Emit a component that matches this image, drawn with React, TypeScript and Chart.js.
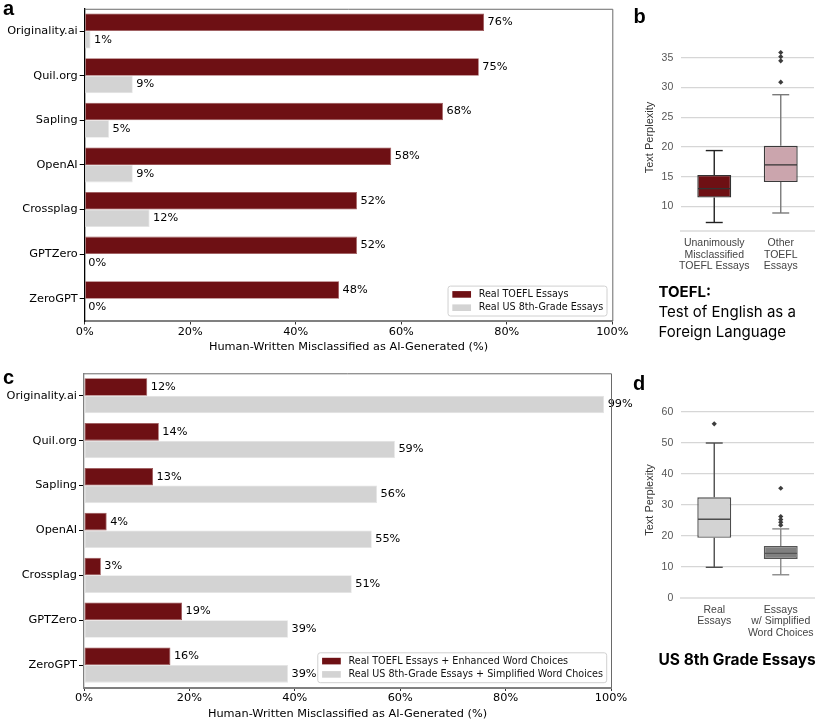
import React, { useEffect, useRef } from "react";
import { Chart, registerables } from "chart.js";
Chart.register(...registerables);

// ---------- data ----------
const detectors = ["Originality.ai", "Quil.org", "Sapling", "OpenAI", "Crossplag", "GPTZero", "ZeroGPT"];
const toeflReal = [75.7, 74.7, 67.9, 58.1, 51.6, 51.6, 48.2];
const usReal = [1.1, 9.1, 4.6, 9.1, 12.3, 0, 0];
const toeflEnhanced = [12.0, 14.2, 13.1, 4.3, 3.2, 18.6, 16.4];
const usSimplified = [98.7, 59.0, 55.6, 54.6, 50.8, 38.7, 38.7];
const pctTicks = [0, 20, 40, 60, 80, 100];

const toeflGroups = [["Unanimously", "Misclassified", "TOEFL Essays"], ["Other", "TOEFL", "Essays"]];
const toeflQ1 = [11.5, 14.1];
const toeflMedian = [13.0, 17.0];
const toeflQ3 = [15.3, 20.2];
const toeflLow = [7.3, 8.9];
const toeflHigh = [19.4, 28.8];
const toeflOutliers = [[], [30.9, 34.5, 35.2, 35.9]];
const toeflTicks = [10, 15, 20, 25, 30, 35];

const usGroups = [["Real", "Essays"], ["Essays", "w/ Simplified", "Word Choices"]];
const usQ1 = [19.3, 12.5];
const usMedian = [25.3, 14.3];
const usQ3 = [32.4, 16.7];
const usLow = [9.8, 7.4];
const usHigh = [49.9, 22.2];
const usOutliers = [[56.1], [23.4, 24.3, 25.2, 26.2, 35.3]];
const usTicks = [0, 10, 20, 30, 40, 50, 60];

const DARK = "#6e1014";
const LIGHT = "#d3d3d3";
const MPL = "DejaVu Sans";
const SNS = "Liberation Sans";
const MPL_SIZE = 11.3;

// ---------- plugins ----------
const barValueLabels = {
  id: "barValueLabels",
  afterDatasetsDraw(chart: any) {
    const ctx = chart.ctx;
    ctx.save();
    ctx.font = `${MPL_SIZE}px "${MPL}"`;
    ctx.fillStyle = "#000";
    ctx.textAlign = "left";
    ctx.textBaseline = "middle";
    chart.data.datasets.forEach((ds: any, di: number) => {
      chart.getDatasetMeta(di).data.forEach((bar: any, i: number) => {
        ctx.fillText(Math.round(ds.data[i]) + "%", bar.x + 3.5, bar.y);
      });
    });
    ctx.restore();
  },
};

const frame = {
  id: "frame",
  afterDraw(chart: any) {
    const { ctx, chartArea } = chart;
    const { left, right, top, bottom } = chartArea;
    ctx.save();
    ctx.strokeStyle = "#6a6a6a";
    ctx.lineWidth = 1;
    ctx.beginPath();
    ctx.moveTo(left, top + 0.5);
    ctx.lineTo(right + 0.5, top + 0.5);
    ctx.lineTo(right + 0.5, bottom);
    ctx.stroke();
    ctx.restore();
  },
};

function makeInsideLegend(marginRight: number, marginBottom: number) {
  return {
    id: "insideLegend",
    afterDraw(chart: any) {
      const { ctx, chartArea } = chart;
      const ds = chart.data.datasets;
      ctx.save();
      ctx.font = `9.6px "${MPL}"`;
      const textW = Math.max(...ds.map((d: any) => ctx.measureText(d.label).width));
      const padL = 4.3, swW = 18.7, gap = 7.7, padR = 3.7, lineH = 13.3, padV = 8.3;
      const w = padL + swW + gap + textW + padR;
      const h = padV * 2 + lineH * (ds.length - 1);
      const x = chartArea.right - marginRight - w;
      const y = chartArea.bottom - marginBottom - h;
      ctx.beginPath();
      if (ctx.roundRect) ctx.roundRect(x, y, w, h, 2.5);
      else ctx.rect(x, y, w, h);
      ctx.fillStyle = "rgba(255,255,255,0.85)";
      ctx.fill();
      ctx.strokeStyle = "#d0d0d0";
      ctx.lineWidth = 1;
      ctx.stroke();
      ds.forEach((d: any, i: number) => {
        const cy = y + padV + i * lineH;
        ctx.fillStyle = d.backgroundColor;
        ctx.fillRect(x + padL, cy - 3.3, swW, 6.6);
        ctx.fillStyle = "#111";
        ctx.textAlign = "left";
        ctx.textBaseline = "middle";
        ctx.fillText(d.label, x + padL + swW + gap, cy);
      });
      ctx.restore();
    },
  };
}

function makeWhiskers(q1: number[], med: number[], q3: number[], lo: number[], hi: number[], whiskerColors: string[], medianColors: string[]) {
  return {
    id: "whiskers",
    afterDatasetsDraw(chart: any) {
      const ctx = chart.ctx;
      const ys = chart.scales.y;
      const meta = chart.getDatasetMeta(0);
      meta.data.forEach((bar: any, i: number) => {
        const x = bar.x;
        const w = bar.width;
        const line = (x1: number, y1: number, x2: number, y2: number) => {
          ctx.beginPath();
          ctx.moveTo(x1, y1);
          ctx.lineTo(x2, y2);
          ctx.stroke();
        };
        ctx.save();
        ctx.lineWidth = 1.4;
        ctx.strokeStyle = whiskerColors[i];
        const pTop = ys.getPixelForValue(q3[i]);
        const pBot = ys.getPixelForValue(q1[i]);
        const pHi = ys.getPixelForValue(hi[i]);
        const pLo = ys.getPixelForValue(lo[i]);
        line(x, pTop, x, pHi);
        line(x - w / 4, pHi, x + w / 4, pHi);
        line(x, pBot, x, pLo);
        line(x - w / 4, pLo, x + w / 4, pLo);
        ctx.strokeStyle = medianColors[i];
        const pMed = ys.getPixelForValue(med[i]);
        line(x - w / 2 + 0.7, pMed, x + w / 2 - 0.7, pMed);
        ctx.restore();
      });
    },
  };
}

// ---------- configs ----------
function barConfig(g: any) {
  return {
    type: "bar",
    data: {
      labels: detectors,
      datasets: [
        { label: g.label1, data: g.s1, backgroundColor: DARK, borderColor: "#9a5456", borderWidth: 0.8, borderSkipped: false },
        { label: g.label2, data: g.s2, backgroundColor: LIGHT, borderColor: "#e4e4e4", borderWidth: 0.8, borderSkipped: false },
      ],
    },
    options: {
      indexAxis: "y",
      responsive: false,
      animation: false,
      events: [],
      layout: { padding: { top: g.padTop, right: g.padRight, left: 0, bottom: 0 } },
      datasets: { bar: { categoryPercentage: 0.785, barPercentage: 1 } },
      plugins: { legend: { display: false }, tooltip: { enabled: false } },
      scales: {
        x: {
          type: "linear",
          min: 0,
          max: 100,
          bounds: "data",
          afterBuildTicks: (a: any) => { a.ticks = pctTicks.map((v) => ({ value: v })); },
          afterFit: (s: any) => { s.height = g.xHeight; },
          ticks: { callback: (v: any) => v + "%", color: "#000", font: { family: MPL, size: MPL_SIZE }, padding: 0.5, maxRotation: 0 },
          grid: { drawOnChartArea: false, drawTicks: true, tickLength: 3.5, tickColor: "#333", tickWidth: 1 },
          border: { color: "#808080", width: 2 },
          title: {
            display: true,
            text: "Human-Written Misclassified as AI-Generated (%)",
            color: "#000",
            font: { family: MPL, size: MPL_SIZE },
            padding: { top: 0, bottom: 0.2 },
          },
        },
        y: {
          type: "category",
          afterFit: (s: any) => { s.width = g.yWidth; },
          ticks: { color: "#000", font: { family: MPL, size: MPL_SIZE }, padding: 2, autoSkip: false },
          grid: { drawOnChartArea: false, offset: false, tickLength: 5, tickColor: "#000", tickWidth: 1 },
          border: { color: g.leftSpine, width: 1.3 },
        },
      },
    },
    plugins: [barValueLabels, frame, makeInsideLegend(g.legRight, g.legBottom)],
  };
}

function boxConfig(g: any) {
  const outlierPts: any[] = [];
  g.outliers.forEach((arr: number[], i: number) => arr.forEach((v) => outlierPts.push({ x: i, y: v })));
  return {
    type: "bar",
    data: {
      labels: g.groups,
      datasets: [
        {
          label: "box",
          data: g.q1.map((v: number, i: number) => [v, g.q3[i]]),
          backgroundColor: g.fills,
          borderColor: g.edges,
          borderWidth: 1.4,
          borderSkipped: false,
          grouped: false,
          categoryPercentage: 1,
          barPercentage: 0.51,
        },
        {
          type: "line",
          label: "outliers",
          xAxisID: "xo",
          data: outlierPts,
          showLine: false,
          pointStyle: "rectRot",
          pointRadius: 2.6,
          pointBackgroundColor: "#3d3d3d",
          pointBorderWidth: 0,
        },
      ],
    },
    options: {
      responsive: false,
      animation: false,
      events: [],
      layout: { padding: { top: g.padTop, right: g.padRight, left: 0, bottom: 0 } },
      plugins: { legend: { display: false }, tooltip: { enabled: false } },
      scales: {
        x: {
          type: "category",
          afterFit: (s: any) => { s.height = g.xHeight; },
          grid: { display: false, drawTicks: false, tickLength: 0 },
          border: { display: true, color: "#e3e3e3", width: 2 },
          ticks: { color: "#444", font: { family: SNS, size: 10.5, lineHeight: 1.08 }, padding: 6.6, maxRotation: 0, autoSkip: false },
        },
        xo: {
          type: "linear",
          position: "bottom",
          display: false,
          offset: false,
          grid: { offset: false },
          min: -0.5,
          max: g.groups.length - 0.5,
          bounds: "data",
        },
        y: {
          type: "linear",
          min: g.min,
          max: g.max,
          bounds: "data",
          afterBuildTicks: (a: any) => { a.ticks = g.ticks.map((v: number) => ({ value: v })); },
          afterFit: (s: any) => { s.width = g.yWidth; },
          ticks: { color: "#555", font: { family: SNS, size: 10.5 }, padding: 7.7 },
          grid: {
            drawTicks: false,
            color: (c: any) => (c.tick && c.tick.value === 0 ? "rgba(0,0,0,0)" : "#d6d6d6"),
            lineWidth: 1.2,
          },
          border: { display: false },
          title: {
            display: true,
            text: "Text Perplexity",
            color: "#333",
            font: { family: SNS, size: 11 },
            padding: { top: 13.4, bottom: 0 },
          },
        },
      },
    },
    plugins: [makeWhiskers(g.q1, g.med, g.q3, g.lo, g.hi, g.whiskerColors, g.medianColors)],
  };
}

function ChartCanvas({ left, top, width, height, make }: any) {
  const ref = useRef<HTMLCanvasElement | null>(null);
  useEffect(() => {
    const chart = new Chart(ref.current as HTMLCanvasElement, make() as any);
    return () => chart.destroy();
  }, []);
  return (
    <canvas
      ref={ref}
      width={width}
      height={height}
      style={{ position: "absolute", left, top, width, height }}
    />
  );
}

const letterStyle = (left: number, top: number): React.CSSProperties => ({
  position: "absolute",
  left,
  top,
  fontFamily: `"${SNS}", Arial, sans-serif`,
  fontWeight: 700,
  fontSize: 20,
  lineHeight: "20px",
  color: "#000",
});

export default function App() {
  return (
    <div style={{ position: "absolute", left: 0, top: 0, width: 830, height: 721, background: "#fff", overflow: "hidden" }}>
      <ChartCanvas
        left={0}
        top={0}
        width={640}
        height={354}
        make={() =>
          barConfig({
            s1: toeflReal,
            s2: usReal,
            label1: "Real TOEFL Essays",
            label2: "Real US 8th-Grade Essays",
            padTop: 6,
            padRight: 27.7,
            xHeight: 33,
            yWidth: 84.7,
            leftSpine: "#000",
            legRight: 5.3,
            legBottom: 5,
          })
        }
      />
      <ChartCanvas
        left={0}
        top={360}
        width={640}
        height={361}
        make={() =>
          barConfig({
            s1: toeflEnhanced,
            s2: usSimplified,
            label1: "Real TOEFL Essays + Enhanced Word Choices",
            label2: "Real US 8th-Grade Essays + Simplified Word Choices",
            padTop: 13.3,
            padRight: 29,
            xHeight: 33.5,
            yWidth: 84,
            leftSpine: "#808080",
            legRight: 4.3,
            legBottom: 4.8,
          })
        }
      />
      <ChartCanvas
        left={630}
        top={30}
        width={200}
        height={250}
        make={() =>
          boxConfig({
            groups: toeflGroups,
            q1: toeflQ1,
            med: toeflMedian,
            q3: toeflQ3,
            lo: toeflLow,
            hi: toeflHigh,
            outliers: toeflOutliers,
            ticks: toeflTicks,
            min: 5.87,
            max: 37.33,
            fills: [DARK, "#cba5ad"],
            edges: ["#333", "#3a3a3a"],
            whiskerColors: ["#222", "#7a7a7a"],
            medianColors: ["#333", "#333"],
            padTop: 8.1,
            padRight: 16,
            xHeight: 49,
            yWidth: 51,
          })
        }
      />
      <ChartCanvas
        left={630}
        top={380}
        width={200}
        height={270}
        make={() =>
          boxConfig({
            groups: usGroups,
            q1: usQ1,
            med: usMedian,
            q3: usQ3,
            lo: usLow,
            hi: usHigh,
            outliers: usOutliers,
            ticks: usTicks,
            min: 0,
            max: 63,
            fills: [LIGHT, "#808080"],
            edges: ["#4d4d4d", "#555"],
            whiskerColors: ["#4d4d4d", "#8a8a8a"],
            medianColors: ["#4d4d4d", "#555"],
            padTop: 22.4,
            padRight: 16,
            xHeight: 52.3,
            yWidth: 51,
          })
        }
      />
      <div style={letterStyle(3, -1.9)}>a</div>
      <div style={letterStyle(633.5, 6.4)}>b</div>
      <div style={letterStyle(3, 367.4)}>c</div>
      <div style={letterStyle(633, 373.1)}>d</div>
      <div
        style={{
          position: "absolute",
          left: 658.5,
          top: 284.4,
          fontFamily: "Inter, sans-serif",
          fontWeight: 700,
          fontSize: 15,
          lineHeight: "15px",
          color: "#000",
        }}
      >
        TOEFL:
      </div>
      <div
        style={{
          position: "absolute",
          left: 658.5,
          top: 302,
          fontFamily: "Inter, sans-serif",
          fontSize: 15,
          lineHeight: "19.7px",
          color: "#000",
          whiteSpace: "nowrap",
        }}
      >
        Test of English as a<br />Foreign Language
      </div>
      <div
        style={{
          position: "absolute",
          left: 658.5,
          top: 652.3,
          fontFamily: "Inter, sans-serif",
          fontWeight: 700,
          fontSize: 15.5,
          lineHeight: "15.5px",
          color: "#000",
          whiteSpace: "nowrap",
        }}
      >
        US 8th Grade Essays
      </div>
    </div>
  );
}
